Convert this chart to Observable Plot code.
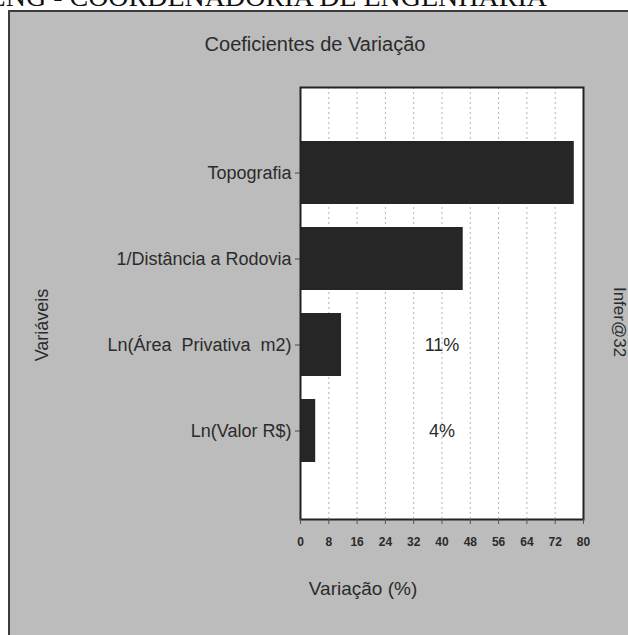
<!DOCTYPE html>
<html>
<head>
<meta charset="utf-8">
<script src="https://cdn.jsdelivr.net/npm/d3@7"></script>
<script src="https://cdn.jsdelivr.net/npm/@observablehq/plot@0.6"></script>
<style>
  body { margin: 0; background: #ffffff; }
  #wrap { position: relative; width: 628px; height: 635px; overflow: hidden; font-family: "Liberation Sans", Arial, sans-serif; color: #2b2b2b; }
  #panel { position: absolute; left: 8px; top: 10px; width: 640px; height: 640px; background: #bcbcbc; border-left: 2px solid #3c3c3c; border-top: 2px solid #3c3c3c; }
  #header { position: absolute; right: 81px; top: -17px; font-family: "Liberation Serif", "Times New Roman", serif; font-size: 28px; line-height: 28px; white-space: nowrap; color: #111; }
  .lbl { position: absolute; white-space: nowrap; line-height: 1; }
  #title { left: 315px; top: 44px; transform: translate(-50%, -50%); font-size: 20px; }
  #ylab { left: 42px; top: 325px; transform: translate(-50%, -50%) rotate(-90deg); font-size: 18px; }
  #xlab { left: 363px; top: 588px; transform: translate(-50%, -50%); font-size: 19px; }
  #side { left: 619px; top: 322px; transform: translate(-50%, -50%) rotate(90deg); font-size: 17px; }
  #chart { position: absolute; left: 0; top: 0; }
</style>
</head>
<body>
<div id="wrap">
  <div id="header">ENG - COORDENADORIA DE ENGENHARIA</div>
  <div id="panel"></div>
  <div id="chart"></div>
  <div class="lbl" id="title">Coeficientes de Variação</div>
  <div class="lbl" id="ylab">Variáveis</div>
  <div class="lbl" id="xlab">Variação (%)</div>
  <div class="lbl" id="side">Infer@32</div>
</div>
<script>
const categories = ["Topografia", "1/Distância a Rodovia", "Ln(Área  Privativa  m2)", "Ln(Valor R$)"];
const values = [77.4, 46, 11.6, 4.3];
const valueLabels = ["", "", "11%", "4%"];
const xTicks = [0, 8, 16, 24, 32, 40, 48, 56, 64, 72, 80];

const data = categories.map((c, i) => ({category: c, value: values[i], label: valueLabels[i]}));

const chart = Plot.plot({
  width: 628,
  height: 635,
  marginLeft: 300,
  marginRight: 45,
  marginTop: 87,
  marginBottom: 116,
  style: { background: "transparent", fontFamily: "Liberation Sans, Arial, sans-serif", color: "#2b2b2b" },
  x: { domain: [0, 80], ticks: xTicks, label: null },
  y: { domain: categories, range: [129, 474], paddingInner: 0.27, paddingOuter: 0.135, label: null },
  marks: [
    Plot.frame({ fill: "#ffffff", stroke: null }),
    Plot.ruleX(xTicks.slice(1, -1), { stroke: "#b4b4b4", strokeDasharray: "2,3", strokeWidth: 1 }),
    Plot.barX(data, { y: "category", x: "value", fill: "#262626" }),
    Plot.text(data.filter(d => d.label), { y: "category", x: () => 40, text: "label", fontSize: 18, fill: "#2b2b2b" }),
    Plot.frame({ stroke: "#222222", strokeWidth: 2 }),
    Plot.axisY({ tickSize: 5, tickPadding: 4, fontSize: 18, stroke: "#444", label: null }),
    Plot.axisX({ ticks: xTicks, tickSize: 5, tickPadding: 13, fontSize: 12, fontWeight: "bold", stroke: "#555", label: null })
  ]
});
document.getElementById("chart").appendChild(chart);
</script>
</body>
</html>
